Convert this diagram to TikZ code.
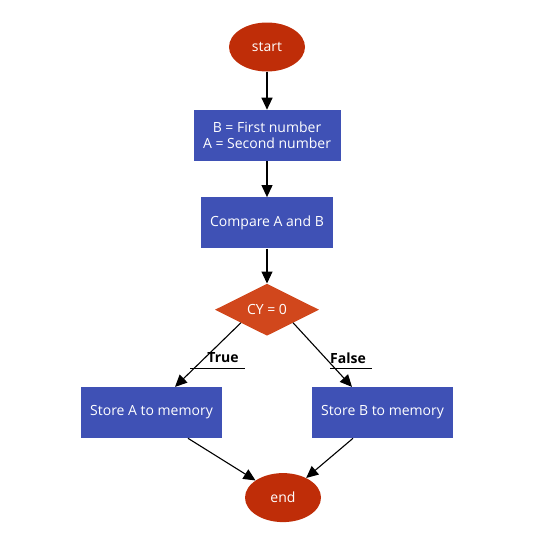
\documentclass[tikz,border=0pt]{standalone}
\usepackage{fontspec}
\setmainfont{Open Sans}
\usepackage{tikz}
\usetikzlibrary{shapes.geometric, arrows.meta, positioning}
\definecolor{boxblue}{RGB}{63,81,181}
\definecolor{termred}{RGB}{191,45,8}
\definecolor{condred}{RGB}{209,71,28}
\tikzstyle{process}=[rectangle, minimum height=51pt, text centered, fill=boxblue,
  text=white, align=center, font=\fontsize{14}{16}\selectfont]
\tikzstyle{terminal}=[ellipse, minimum width=76pt, minimum height=49pt, inner sep=0pt,
  fill=termred, text=white, font=\fontsize{14}{16}\selectfont]
\tikzstyle{decision}=[diamond, aspect=2, minimum width=104pt, minimum height=52pt,
  inner sep=0pt, fill=condred, text=white, font=\fontsize{14}{16}\selectfont]
\tikzstyle{arrow}=[-{Triangle[length=12pt, width=11pt]}, line width=1.1pt, black]
\tikzstyle{edgelabel}=[inner sep=0pt, font=\fontsize{14}{16}\selectfont\bfseries]

\begin{document}
\begin{tikzpicture}[x=1pt, y=1pt, node distance=36pt]
  \useasboundingbox (0,0) rectangle (536,-536);
  \node[terminal] (start) at (267,-47) {start};
  \node[process, minimum width=147pt, below=38pt of start] (getab) {B = First number\\A = Second number};
  \node[process, minimum width=132pt, below=of getab] (cmp) {Compare A and B};
  \node[decision, below=35pt of cmp] (cy) {CY = 0};
  \node[process, minimum width=141pt, below=51pt of cy, xshift=-115.5pt] (storea) {Store A to memory};
  \node[process, minimum width=141pt, below=51pt of cy, xshift=115.5pt] (storeb) {Store B to memory};
  \node[terminal, below=137pt of cy, xshift=16pt] (end) {end};
  % labels on the two branches
  \node[edgelabel] (true) at (223,-358) {True};
  \node[edgelabel] (false) at (348,-358) {False};
  \draw[line width=1pt] ([xshift=-33pt, yshift=-5pt]true.south) -- ([xshift=22pt, yshift=-5pt]true.south);
  \draw[line width=1pt] ([xshift=-18pt, yshift=-5pt]false.south) -- ([xshift=24pt, yshift=-5pt]false.south);
  \draw[arrow] (start)--(getab);
  \draw[arrow] (getab)--(cmp);
  \draw[arrow] (cmp)--(cy);
  \draw[arrow] (cy.south west) -- ([xshift=23.5pt]storea.north);
  \draw[arrow] (cy.south east) -- ([xshift=-30.5pt]storeb.north);
  \draw[arrow] ([xshift=36.5pt]storea.south) -- (end);
  \draw[arrow] ([xshift=-29.5pt]storeb.south) -- (end);
\end{tikzpicture}
\end{document}
